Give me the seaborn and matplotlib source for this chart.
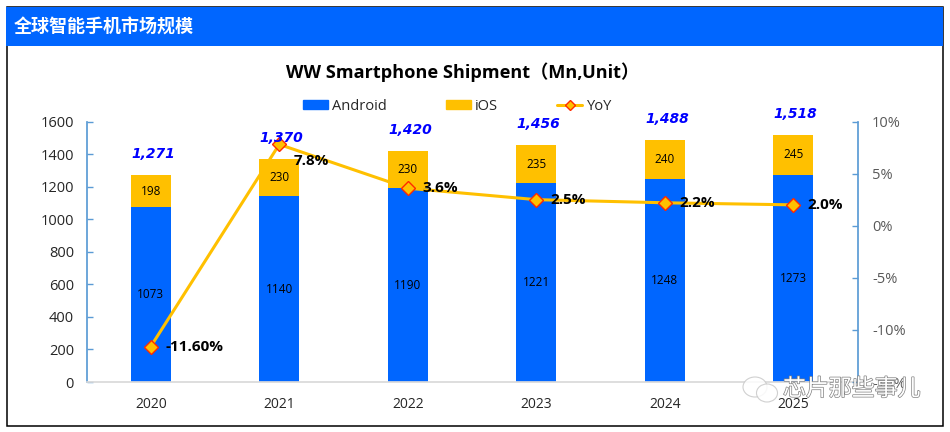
import matplotlib
matplotlib.use('Agg')
import matplotlib.pyplot as plt
import matplotlib.patheffects as pe
from matplotlib.lines import Line2D
from matplotlib.patches import Ellipse, Patch, Rectangle
import seaborn as sns

years = ['2020', '2021', '2022', '2023', '2024', '2025']
android = [1073, 1140, 1190, 1221, 1248, 1273]
ios = [198, 230, 230, 235, 240, 245]
totals = [1271, 1370, 1420, 1456, 1488, 1518]
yoy = [-11.6, 7.8, 3.6, 2.5, 2.2, 2.0]
yoy_labels = ['-11.60%', '7.8%', '3.6%', '2.5%', '2.2%', '2.0%']
left_ticks = [0, 200, 400, 600, 800, 1000, 1200, 1400, 1600]
right_ticks = [-15, -10, -5, 0, 5, 10]

BLUE = '#0066FF'
GOLD = '#FFC000'
AXIS = '#5B9BD5'
W, H = 950, 432

sns.set_theme(style='white')
plt.rcParams['font.family'] = ['Open Sans', 'Noto Sans CJK SC', 'DejaVu Sans']


def fx(x):
    return x / W


def fy(y):
    return 1 - y / H


fig = plt.figure(figsize=(W / 100, H / 100), dpi=100)
ax = fig.add_axes([fx(86.5), fy(382), (857.5 - 86.5) / W, (382 - 121.5) / H])

# stacked bars
sns.barplot(x=years, y=android, color=BLUE, width=0.31, saturation=1, linewidth=0, ax=ax)
sns.barplot(x=years, y=ios, bottom=android, color=GOLD, width=0.31, saturation=1, linewidth=0, ax=ax)
ax.bar_label(ax.containers[0], labels=[str(v) for v in android], label_type='center',
             fontsize=8.5, color='black')
ax.bar_label(ax.containers[1], labels=[str(v) for v in ios], label_type='center',
             fontsize=8.5, color='black')

ax.set_xlim(-0.5, 5.5)
ax.set_ylim(0, 1600)
ax.set_yticks(left_ticks)
ax.tick_params(axis='y', direction='in', length=4, width=1, color=AXIS, labelsize=10.5,
               labelcolor='#262626', pad=9, left=True)
ax.tick_params(axis='x', length=0, labelsize=10, labelcolor='#262626', pad=10.5)
for spine in ['top', 'right']:
    ax.spines[spine].set_visible(False)
ax.spines['left'].set_color(AXIS)
ax.spines['bottom'].set_color('#D9D9D9')

# yoy line on the second axis
ax2 = ax.twinx()
sns.lineplot(x=years, y=yoy, sort=False, color=GOLD, linewidth=2.2, marker='D', markersize=7.5,
             markerfacecolor=GOLD, markeredgecolor='#FF2A00', markeredgewidth=1, ax=ax2)
ax2.set_xlim(-0.5, 5.5)
ax2.set_ylim(-15, 10)
ax2.set_yticks(right_ticks)
ax2.set_yticklabels([f'{v}%' for v in right_ticks])
ax2.tick_params(axis='y', direction='in', length=4, width=1, color=AXIS, labelsize=10.5,
                labelcolor='#595959', pad=10.5, right=True)
ax2.grid(False)
for spine in ['top', 'left', 'bottom']:
    ax2.spines[spine].set_visible(False)
ax2.spines['right'].set_color(AXIS)

for i, (val, lab) in enumerate(zip(yoy, yoy_labels)):
    dy = -12 if lab == '7.8%' else 0
    ax2.annotate(lab, (i, val), xytext=(10.5, dy), textcoords='offset points',
                 ha='left', va='center', fontsize=11, fontweight='bold', color='black')

# totals go on ax2 so they stay above the line, still placed by the left scale
for i, total in enumerate(totals):
    ax2.annotate(f'{total:,}', (i, total), xycoords=ax.transData, xytext=(1.5, 15),
                 textcoords='offset points', ha='center', va='center', fontsize=10,
                 fontweight='bold', fontstyle='italic', family='DejaVu Sans', color='#0000FF')

handles = [Patch(color=BLUE, label='Android'), Patch(color=GOLD, label='iOS'),
           Line2D([], [], color=GOLD, linewidth=2.2, marker='D', markersize=5.5,
                  markerfacecolor=GOLD, markeredgecolor='#FF2A00', label='YoY')]
fig.legend(handles=handles, loc='center left', bbox_to_anchor=(fx(290), fy(106)), ncol=3,
           frameon=False, fontsize=10.5, handlelength=1.7, handleheight=0.55, handletextpad=0.3,
           columnspacing=4.05, labelcolor='#262626')

# header band, frame and title
fig.add_artist(Rectangle((fx(6.5), fy(426)), (943 - 6.5) / W, (426 - 7) / H, transform=fig.transFigure,
                         fill=False, edgecolor='black', linewidth=1.1))
fig.add_artist(Rectangle((fx(6), fy(46)), (943 - 6) / W, 39 / H, transform=fig.transFigure,
                         facecolor=BLUE, edgecolor='none'))
fig.text(fx(14), fy(27), '全球智能手机市场规模', color='white', fontsize=13, fontweight='bold',
         ha='left', va='center', family='Noto Sans CJK SC')
fig.text(fx(463), fy(72), 'WW Smartphone Shipment（Mn,Unit）', color='black', fontsize=13.1,
         fontweight='bold', ha='center', va='center')

# watermark
for cx, cy, w, h in [(755, 387, 24, 20), (767, 393, 21, 18)]:
    fig.add_artist(Ellipse((fx(cx), fy(cy)), w / W, h / H, transform=fig.transFigure,
                           facecolor='white', edgecolor='#C8C8C8', linewidth=0.8, alpha=0.85))
fig.text(fx(783), fy(389), '芯片那些事儿', color='white', fontsize=16.5, ha='left', va='center',
         family='Noto Sans CJK SC', path_effects=[pe.withStroke(linewidth=1, foreground='#808080')])

fig.savefig('out.png', dpi=100)
